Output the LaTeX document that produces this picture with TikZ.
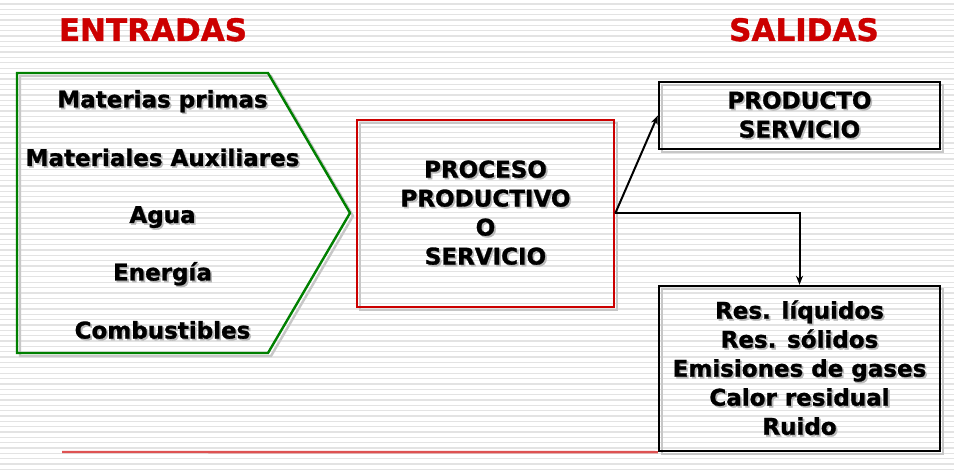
\documentclass[tikz,border=0pt]{standalone}
\usepackage{fontspec}
\setmainfont{DejaVu Sans}[BoldFeatures={FakeBold=1.2}]
\usetikzlibrary{arrows.meta}

\definecolor{rojo}{RGB}{204,0,0}
\definecolor{verde}{RGB}{0,128,0}
\definecolor{rojolinea}{RGB}{222,82,82}

% texto con sombra gris
\newcommand{\shd}[1]{\rlap{\kern1.7pt\raisebox{-1.7pt}{\textcolor{black!28}{#1}}}#1}

\tikzset{
  texto/.style={font=\bfseries\fontsize{23}{29}\selectfont, inner sep=0pt, anchor=base},
  titulo/.style={font=\bfseries\fontsize{31}{36}\selectfont, text=rojo, inner sep=0pt, anchor=base},
  caja/.style={line width=2.4pt, inner sep=0pt, align=center,
    font=\bfseries\fontsize{23}{29}\selectfont,
    preaction={draw=black!22, line width=2.4pt, transform canvas={shift={(3pt,-3pt)}}}},
  flecha/.style={line width=2pt, -{Stealth[length=9pt,width=7pt]}}
}

\begin{document}
\begin{tikzpicture}[x=1pt,y=-1pt]

\def\NLINEAS{88}
	\useasboundingbox (0,0) rectangle (954,473);
	\fill[white] (0,0) rectangle (954,473);
	% fondo rayado
	\foreach \i in {0,...,\NLINEAS}
		\draw[black!11, line width=1.3pt] (0,4+\i*5.35) -- (954,4+\i*5.35);

	\node[titulo] (ent) at (153,41) {ENTRADAS};
	\node[titulo] (sal) at (804,41) {SALIDAS};

	% entradas
	\draw[line width=2.4pt, black!22, shift={(3,3)}] (17,73) -- (268,73) -- (350,213) -- (268,353) -- (17,353) -- cycle;
	\draw[line width=2.4pt, verde] (17,73) -- (268,73) -- (350,213) -- (268,353) -- (17,353) -- cycle;
	\node[texto] (mp) at (162.5,107.5) {\shd{Materias primas}};
	\node[texto] (ma) at (162.5,166) {\shd{Materiales Auxiliares}};
	\node[texto] (ag) at (162.5,223) {\shd{Agua}};
	\node[texto] (en) at (162.5,280.5) {\shd{Energía}};
	\node[texto] (co) at (162.5,338.5) {\shd{Combustibles}};

	% proceso
	\node[caja, draw=rojo, minimum width=257pt, minimum height=187pt] (proc) at (485.5,213.5)
		{\shd{PROCESO}\\\shd{PRODUCTIVO}\\\shd{O}\\\shd{SERVICIO}};

	% salidas
	\node[caja, draw=black, minimum width=281pt, minimum height=67pt] (prod) at (799.5,115.5)
		{\shd{PRODUCTO}\\\shd{SERVICIO}};
	\node[caja, draw=black, minimum width=281pt, minimum height=165pt] (res) at (799.5,368.5)
		{\shd{Res. líquidos}\\\shd{Res. sólidos}\\\shd{Emisiones de gases}\\\shd{Calor residual}\\\shd{Ruido}};

	\draw[flecha] (proc.east) -- (prod.west);
	\draw[flecha] (proc.east) -| (res.north);

	\draw[rojolinea, line width=2.4pt] (62,452) -- (res.south west);

\end{tikzpicture}
\end{document}
